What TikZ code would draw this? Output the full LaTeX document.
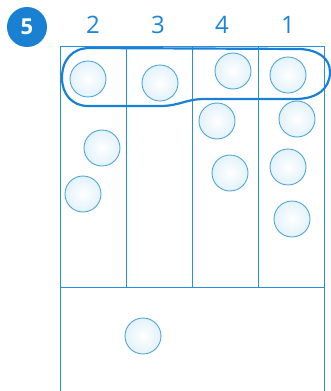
\documentclass[tikz,border=0pt]{standalone}
\usepackage{fontspec}
\setmainfont{Open Sans}
\definecolor{gridblue}{HTML}{2A8EE0}
\definecolor{loopblue}{HTML}{1A80D2}
\definecolor{ballline}{HTML}{4FA6D6}
\definecolor{ballfill}{HTML}{E2F2FA}
\definecolor{labelblue}{HTML}{1E84D4}
\tikzset{
  ball/.style={circle, draw=ballline, line width=0.9pt, minimum size=36pt, inner sep=0pt,
    inner color=white, outer color=ballfill},
  colhead/.style={text=labelblue, font=\fontsize{24}{24}\selectfont, inner sep=0pt},
  gridline/.style={draw=gridblue, line width=1pt},
  loopline/.style={draw=loopblue, line width=2.2pt},
}
\begin{document}
\begin{tikzpicture}[x=1pt,y=-1pt]
\useasboundingbox (0,0) rectangle (330,391);
% badge
\node[circle, fill=loopblue, minimum size=40pt, inner sep=0pt, text=white,
  font=\bfseries\fontsize{22}{22}\selectfont] (badge) at (27,27) {5};
% column headings
\node[colhead] (h2) at (93,25) {2};
\node[colhead] (h3) at (158,25) {3};
\node[colhead] (h4) at (222,25) {4};
\node[colhead] (h1) at (288,25) {1};
% grid
\draw[gridline] (60,391) -- (60,46) -- (324,46) -- (324,391);
\draw[gridline] (126,46) -- (126,287);
\draw[gridline] (192,46) -- (192,287);
\draw[gridline] (258,46) -- (258,287);
\draw[gridline] (60,287) -- (324,287);
% balls
\node[ball] (b1) at (88,79) {};
\node[ball] (b2) at (160,83) {};
\node[ball] (b3) at (233,71) {};
\node[ball] (b4) at (288,75) {};
\node[ball] (b5) at (217,121) {};
\node[ball] (b6) at (297,119) {};
\node[ball] (b7) at (102,148) {};
\node[ball] (b8) at (83,194) {};
\node[ball] (b9) at (230,173) {};
\node[ball] (b10) at (288,167) {};
\node[ball] (b11) at (292,219) {};
\node[ball] (b12) at (143,336) {};
% loop
\draw[loopline] (90,48) -- (300,49)
  .. controls (318,50) and (330,58) .. (330,72)
  .. controls (330,88) and (318,99) .. (295,99)
  -- (205,99)
  .. controls (185,99) and (180,106) .. (160,106)
  -- (88,106)
  .. controls (72,106) and (62,94) .. (62,78)
  .. controls (62,60) and (72,48) .. (90,48) -- cycle;
\end{tikzpicture}
\end{document}
